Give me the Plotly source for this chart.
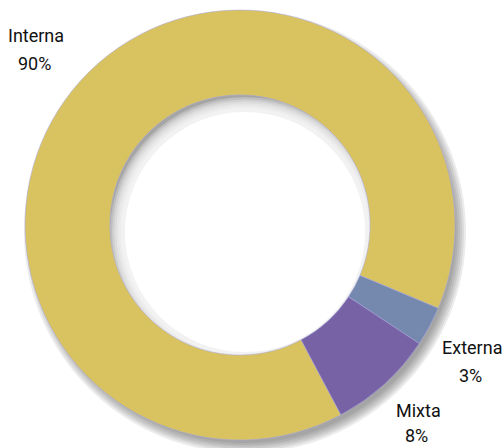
import plotly.graph_objects as go

# Distribution of audit types
categories = ["Interna", "Externa", "Mixta"]
values = [90, 3, 8]
colors = ["#d9c260", "#7589ae", "#7862a6"]

W, H = 504, 448
cx, cy, r = 240, 225, 215      # donut centre and outer radius in pixels
hole = 0.605

fig = go.Figure()

fig.add_trace(go.Pie(
    labels=categories,
    values=values,
    sort=False,
    direction="clockwise",
    rotation=152,
    hole=hole,
    marker=dict(colors=colors, line=dict(color="rgba(170,170,225,0.7)", width=0.8)),
    textinfo="none",
    hoverinfo="label+value",
    showlegend=False,
    domain=dict(x=[(cx - r) / W, (cx + r) / W],
                y=[1 - (cy + r) / H, 1 - (cy - r) / H]),
))


def circle(ccx, ccy, rad, fill):
    return dict(type="circle", xref="paper", yref="paper", layer="below",
                x0=(ccx - rad) / W, x1=(ccx + rad) / W,
                y0=1 - (ccy + rad) / H, y1=1 - (ccy - rad) / H,
                fillcolor=fill, line=dict(width=0))


# soft drop shadow cast down-right by the ring
shapes = []
dx, dy = 5, 7
for i in range(6):
    shapes.append(circle(cx + dx, cy + dy, r - 4 + i * 2, "rgba(70,70,70,0.1)"))
ri = r * hole
for i in range(6):
    shapes.append(circle(cx + dx, cy + dy, ri + 5 - i * 2.2, "rgba(255,255,255,0.28)"))
shapes.append(circle(cx + dx, cy + dy, ri - 10, "white"))

# category labels with their percentages
label_pos = {"Interna": (36, 35), "Externa": (472, 347), "Mixta": (418, 410)}
annotations = []
font = dict(family="Roboto, sans-serif", size=18, color="#111111")
for name, val in zip(categories, values):
    x, y = label_pos[name]
    gap = 25 if name == "Mixta" else 28
    annotations.append(dict(x=x / W, y=1 - y / H, xref="paper", yref="paper",
                            text=name, showarrow=False, xanchor="center",
                            yanchor="middle", font=font))
    annotations.append(dict(x=(x - 2) / W, y=1 - (y + gap) / H, xref="paper", yref="paper",
                            text=f"{val}%", showarrow=False, xanchor="center",
                            yanchor="middle", font=font))

fig.update_layout(
    width=W, height=H,
    margin=dict(l=0, r=0, t=0, b=0),
    paper_bgcolor="white",
    plot_bgcolor="white",
    shapes=shapes,
    annotations=annotations,
)

fig.write_html("out.html")
